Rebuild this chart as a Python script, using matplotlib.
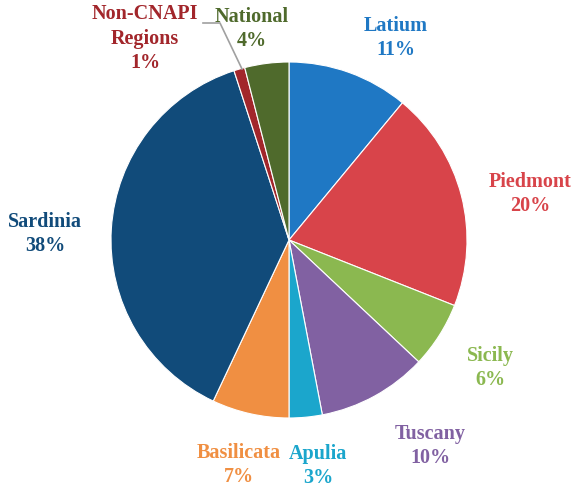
import matplotlib
matplotlib.use('Agg')
import matplotlib.pyplot as plt

# data (clockwise from 12 o'clock)
regions = ['Latium', 'Piedmont', 'Sicily', 'Tuscany', 'Apulia', 'Basilicata',
           'Sardinia', 'Non-CNAPI\nRegions', 'National']
shares = [11, 20, 6, 10, 3, 7, 38, 1, 4]
colors = ['#1f78c4', '#d8444a', '#8bb850', '#8161a2', '#1ba6cc', '#f08f42',
          '#114b7a', '#a2262b', '#4f6a2c']

# label block centres in pixel coords of the 573x490 picture
label_px = [(396, 38), (530, 194), (490, 368), (430, 446), (318, 466),
            (239, 465), (45, 234), (145, 39), (252, 29)]

W, H = 573, 490
cx, cy, R = 289, 240, 178


def to_data(px, py):
    return (px - cx) / R, (cy - py) / R


fig = plt.figure(figsize=(W / 100., H / 100.), dpi=100)
ax = fig.add_axes([0, 0, 1, 1])

ax.pie(shares, colors=colors, startangle=90, counterclock=False, radius=1.0,
       wedgeprops=dict(edgecolor='white', linewidth=0.8))

for name, val, col, (px, py) in zip(regions, shares, colors, label_px):
    x, y = to_data(px, py)
    ax.text(x, y, '{}\n{}%'.format(name, val), color=col, ha='center', va='center',
            family=['Liberation Serif', 'DejaVu Serif'], fontweight='bold',
            fontsize=14.5, linespacing=1.3)

# leader line for the small slice
lx, ly = zip(*[to_data(242, 69), to_data(220, 23), to_data(203, 23)])
ax.plot(lx, ly, color='#a0a0a0', lw=1.2)

ax.set_xlim(to_data(0, 0)[0], to_data(W, 0)[0])
ax.set_ylim(to_data(0, H)[1], to_data(0, 0)[1])
ax.set_aspect('equal')
ax.axis('off')

plt.savefig('out.png', dpi=100)
plt.close()
